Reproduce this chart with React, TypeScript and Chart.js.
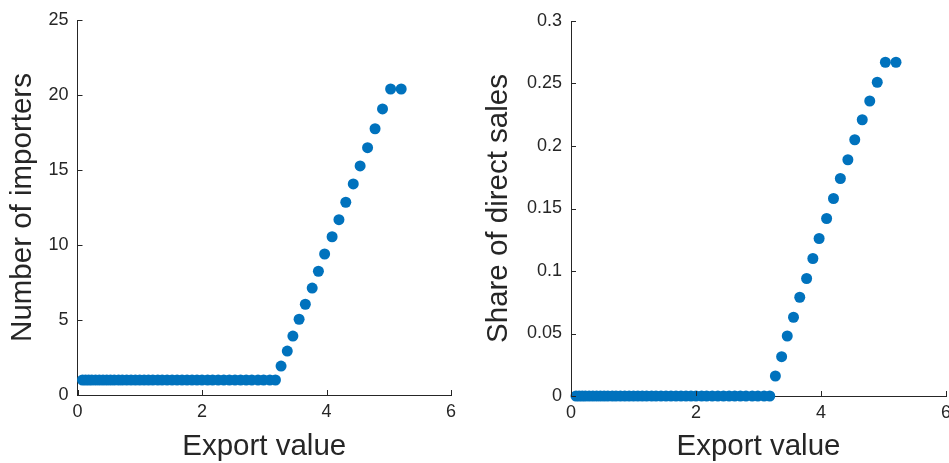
import React, { useEffect, useRef } from "react";
import { Chart, registerables } from "chart.js";

Chart.register(...registerables);

// Export values (x) shared by both panels
const exportValues = [
  0.08, 0.13, 0.18, 0.23, 0.29, 0.35, 0.41, 0.47, 0.53, 0.59, 0.66, 0.72, 0.79, 0.86,
  0.93, 1.0, 1.07, 1.14, 1.21, 1.29, 1.36, 1.44, 1.52, 1.6, 1.68, 1.76, 1.84, 1.92,
  2.0, 2.09, 2.17, 2.26, 2.35, 2.44, 2.53, 2.62, 2.71, 2.8, 2.9, 2.99, 3.09, 3.18,
  3.27, 3.37, 3.46, 3.56, 3.66, 3.77, 3.87, 3.97, 4.09, 4.2, 4.31, 4.43, 4.54, 4.66,
  4.78, 4.9, 5.03, 5.2,
];

const numberOfImporters = [
  1, 1, 1, 1, 1, 1, 1, 1, 1, 1, 1, 1, 1, 1,
  1, 1, 1, 1, 1, 1, 1, 1, 1, 1, 1, 1, 1, 1,
  1, 1, 1, 1, 1, 1, 1, 1, 1, 1, 1, 1, 1, 1,
  1.93, 2.93, 3.93, 5.05, 6.05, 7.13, 8.25, 9.4, 10.55, 11.69, 12.85, 14.07, 15.27, 16.49,
  17.75, 19.07, 20.4, 20.4,
];

const shareOfDirectSales = [
  0, 0, 0, 0, 0, 0, 0, 0, 0, 0, 0, 0, 0, 0,
  0, 0, 0, 0, 0, 0, 0, 0, 0, 0, 0, 0, 0, 0,
  0, 0, 0, 0, 0, 0, 0, 0, 0, 0, 0, 0, 0, 0,
  0.016, 0.0315, 0.048, 0.063, 0.079, 0.094, 0.11, 0.126, 0.142, 0.158, 0.174, 0.189, 0.205, 0.221,
  0.236, 0.251, 0.267, 0.267,
];

const xTicks = [0, 2, 4, 6];
const leftYTicks = [0, 5, 10, 15, 20, 25];
const rightYTicks = [0, 0.05, 0.1, 0.15, 0.2, 0.25, 0.3];

const AXIS = "#262626";
const BLUE = "#0072BD";
const FONT = "'Liberation Sans', Helvetica, Arial, sans-serif";

const inwardTicks = {
  id: "inwardTicks",
  afterDraw(chart: any) {
    const { ctx, chartArea } = chart;
    const xs = chart.scales.x;
    const ys = chart.scales.y;
    ctx.save();
    ctx.strokeStyle = AXIS;
    ctx.lineWidth = 1;
    ctx.beginPath();
    xs.ticks.forEach((t: any) => {
      const p = Math.round(xs.getPixelForValue(t.value)) + 0.5;
      ctx.moveTo(p, chartArea.bottom);
      ctx.lineTo(p, chartArea.bottom - 5);
    });
    ys.ticks.forEach((t: any) => {
      const p = Math.round(ys.getPixelForValue(t.value)) + 0.5;
      ctx.moveTo(chartArea.left, p);
      ctx.lineTo(chartArea.left + 5, p);
    });
    ctx.stroke();
    ctx.restore();
  },
};

function makeConfig(opts: {
  yData: number[];
  yMax: number;
  yTickVals: number[];
  yTitle: string;
  yWidth: number;
  xHeight: number;
  padTop: number;
  padRight: number;
  titlePad: number;
}) {
  const pts = exportValues.map((x, i) => ({ x, y: opts.yData[i] }));
  return {
    type: "scatter" as const,
    data: {
      datasets: [
        {
          data: pts,
          backgroundColor: BLUE,
          borderColor: BLUE,
          borderWidth: 0,
          pointRadius: 5.5,
          pointHoverRadius: 5.5,
          clip: false as any,
        },
      ],
    },
    plugins: [inwardTicks],
    options: {
      animation: false as const,
      responsive: false,
      layout: { padding: { left: 0, top: opts.padTop, right: opts.padRight, bottom: 0 } },
      plugins: { legend: { display: false }, tooltip: { enabled: false } },
      scales: {
        x: {
          type: "linear" as const,
          min: 0,
          max: 6,
          afterBuildTicks: (s: any) => {
            s.ticks = xTicks.map((v) => ({ value: v }));
          },
          afterFit: (s: any) => {
            s.height = opts.xHeight;
          },
          grid: { display: false, drawTicks: false },
          border: { display: true, color: AXIS, width: 1 },
          ticks: {
            color: AXIS,
            font: { family: FONT, size: 18 },
            padding: 6,
            maxRotation: 0,
          },
          title: {
            display: true,
            text: "Export value",
            color: AXIS,
            font: { family: FONT, size: 29.5 },
            padding: { top: 0, bottom: -2 },
          },
        },
        y: {
          type: "linear" as const,
          min: 0,
          max: opts.yMax,
          afterBuildTicks: (s: any) => {
            s.ticks = opts.yTickVals.map((v) => ({ value: v }));
          },
          afterFit: (s: any) => {
            s.width = opts.yWidth;
          },
          grid: { display: false, drawTicks: false },
          border: { display: true, color: AXIS, width: 1 },
          ticks: {
            color: AXIS,
            font: { family: FONT, size: 18 },
            padding: 9,
            callback: (v: any) => String(Number(Number(v).toFixed(3))),
          },
          title: {
            display: true,
            text: opts.yTitle,
            color: AXIS,
            font: { family: FONT, size: 29.5 },
            padding: { top: opts.titlePad, bottom: 0 },
          },
        },
      },
    },
  };
}

function Panel(props: { left: number; width: number; config: any }) {
  const ref = useRef<HTMLCanvasElement | null>(null);
  useEffect(() => {
    if (!ref.current) return;
    const chart = new Chart(ref.current, props.config);
    return () => chart.destroy();
  }, []);
  return (
    <canvas
      ref={ref}
      width={props.width}
      height={463}
      style={{ position: "absolute", left: props.left, top: 0, width: props.width, height: 463, display: "block" }}
    />
  );
}

export default function App() {
  const leftCfg = makeConfig({
    yData: numberOfImporters,
    yMax: 25,
    yTickVals: leftYTicks,
    yTitle: "Number of importers",
    yWidth: 77.5,
    xHeight: 68,
    padTop: 20,
    padRight: 24,
    titlePad: 5,
  });
  const rightCfg = makeConfig({
    yData: shareOfDirectSales,
    yMax: 0.3,
    yTickVals: rightYTicks,
    yTitle: "Share of direct sales",
    yWidth: 96,
    xHeight: 67,
    padTop: 21,
    padRight: 29,
    titlePad: 6,
  });
  return (
    <div
      style={{
        position: "fixed",
        left: 0,
        top: 0,
        width: 949,
        height: 463,
        overflow: "hidden",
        background: "#ffffff",
      }}
    >
      <Panel left={0} width={475} config={leftCfg} />
      <Panel left={475} width={500} config={rightCfg} />
    </div>
  );
}
